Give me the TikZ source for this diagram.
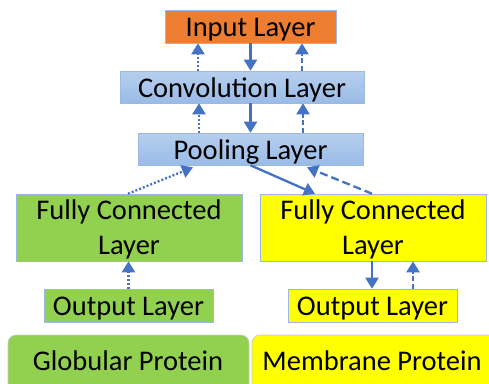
\documentclass[tikz,border=0pt]{standalone}
\usepackage{fontspec}
\setmainfont{Carlito}
\usetikzlibrary{arrows.meta}
\definecolor{arrc}{HTML}{4472C4}
\definecolor{bordc}{HTML}{9DB9E3}
\definecolor{orangec}{HTML}{ED7D31}
\definecolor{greenc}{HTML}{92D050}
\definecolor{yellowc}{HTML}{FFFF00}
\definecolor{bluetop}{HTML}{B7CFEE}
\definecolor{bluebot}{HTML}{99BBE7}
\definecolor{grayb}{HTML}{C8C8C8}
\tikzset{
  box/.style={draw=bordc, line width=0.6pt, inner sep=0pt, align=center,
    font=\fontsize{28.5}{35}\selectfont},
  oneline/.style={text height=20pt, text depth=0pt},
  bluebox/.style={box, oneline, top color=bluetop, bottom color=bluebot},
  prot/.style={draw=grayb, line width=0.6pt, rounded corners=8pt},
  ptext/.style={inner sep=0pt, text height=20pt, text depth=0pt,
    font=\fontsize{28.5}{35}\selectfont},
  conn/.style={draw=arrc, line width=2.3pt, -{Triangle[width=13pt,length=11pt]}},
  dotc/.style={conn, dash pattern=on 2pt off 2pt},
  dashc/.style={conn, dash pattern=on 5pt off 2.5pt},
  longdashc/.style={conn, dash pattern=on 8pt off 4pt},
}
\begin{document}
\begin{tikzpicture}[x=1pt,y=-1pt]
\useasboundingbox (0,0) rectangle (489,383);
% boxes
\node[box, oneline, fill=orangec, minimum width=171pt, minimum height=33pt] (input) at (250.5,26.5) {Input Layer};
\node[bluebox, minimum width=244pt, minimum height=32pt] (conv) at (242,87) {Convolution Layer};
\node[bluebox, minimum width=225pt, minimum height=32pt] (pool) at (250.5,149) {Pooling Layer};
\node[box, text depth=0pt, fill=greenc, minimum width=226pt, minimum height=67pt] (fcg) at (129,227.5) {Fully Connected\\Layer};
\node[box, text depth=0pt, fill=yellowc, minimum width=226pt, minimum height=67pt] (fcy) at (373,227.5) {Fully Connected\\Layer};
\node[box, oneline, fill=greenc, minimum width=169pt, minimum height=33pt] (outg) at (128.5,305.5) {Output Layer};
\node[box, oneline, fill=yellowc, minimum width=169pt, minimum height=33pt] (outy) at (372.5,305.5) {Output Layer};
% protein boxes
\path[prot, fill=greenc] (8,335) rectangle (249,400);
\path[prot, fill=yellowc] (252,335) rectangle (510,400);
\node[ptext] (glob) at (128,360) {Globular Protein};
\node[ptext] (memb) at (372,360) {Membrane Protein};
% connectors input-conv
\draw[dotc] ([xshift=-52.5pt]input.south |- conv.north) -- ([xshift=-52.5pt]input.south);
\draw[conn] (input.south) -- (input.south |- conv.north);
\draw[dashc] ([xshift=51.5pt]input.south |- conv.north) -- ([xshift=51.5pt]input.south);
% conv-pool
\draw[dotc] ([xshift=-51.5pt]pool.north) -- ([xshift=-51.5pt]pool.north |- conv.south);
\draw[conn] (pool.north |- conv.south) -- (pool.north);
\draw[dashc] ([xshift=52.5pt]pool.north) -- ([xshift=52.5pt]pool.north |- conv.south);
% pool-fc
\draw[dotc] ([xshift=-1pt]fcg.north) -- ([xshift=-57.5pt,yshift=-2pt]pool.south);
\draw[conn] (pool.south) -- ([xshift=-58pt]fcy.north);
\draw[longdashc] ([xshift=-1pt]fcy.north) -- ([xshift=56.5pt,yshift=-2pt]pool.south);
% fc-output
\draw[dotc] (outg.north) -- (outg.north |- fcg.south);
\draw[conn] ([xshift=-1pt]fcy.south) -- ([xshift=-1pt]fcy.south |- outy.north);
\draw[dashc] ([xshift=40.5pt]outy.north) -- ([xshift=40.5pt]outy.north |- fcy.south);
\end{tikzpicture}
\end{document}
